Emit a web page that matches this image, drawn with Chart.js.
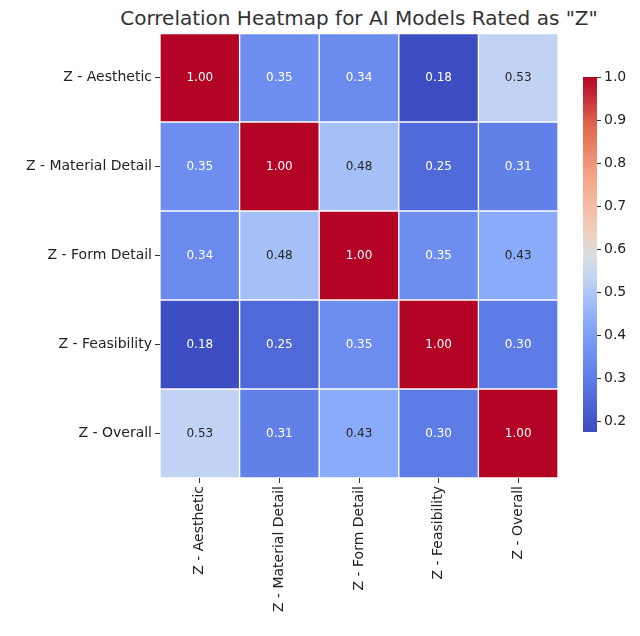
<!DOCTYPE html>
<html><head><meta charset="utf-8">
<script src="https://cdn.jsdelivr.net/npm/chart.js@4"></script>
<style>
body{margin:0;background:#fff;font-family:"DejaVu Sans",sans-serif;}
#title{position:absolute;left:0;width:718px;top:6px;text-align:center;font-size:20px;color:#333;}
#heat{position:absolute;left:0;top:0;}
#bar{position:absolute;left:560px;top:0;}
</style></head><body>
<div id="title">Correlation Heatmap for AI Models Rated as "Z"</div>
<canvas id="heat" width="570" height="636"></canvas>
<canvas id="bar" width="80" height="636"></canvas>
<script>
var labels = ["Z - Aesthetic", "Z - Material Detail", "Z - Form Detail", "Z - Feasibility", "Z - Overall"];
var matrix = [
  [1.00, 0.35, 0.34, 0.18, 0.53],
  [0.35, 1.00, 0.48, 0.25, 0.31],
  [0.34, 0.48, 1.00, 0.35, 0.43],
  [0.18, 0.25, 0.35, 1.00, 0.30],
  [0.53, 0.31, 0.43, 0.30, 1.00]
];
var vmin = 0.175, vmax = 1.0;
var cbTicks = [0.2, 0.3, 0.4, 0.5, 0.6, 0.7, 0.8, 0.9, 1.0];

var stops = [
  [0.0, [59,76,192]], [0.143, [92,122,229]], [0.286, [128,163,250]],
  [0.429, [192,211,245]], [0.5, [221,221,221]], [0.571, [240,205,187]],
  [0.714, [246,166,135]], [0.857, [226,107,83]], [1.0, [180,4,38]]
];
function cmap(t){
  t = Math.max(0, Math.min(1, t));
  for (var i = 1; i < stops.length; i++) {
    if (t <= stops[i][0]) {
      var a = stops[i-1], b = stops[i], f = (t - a[0]) / (b[0] - a[0]);
      return [0,1,2].map(function(k){ return Math.round(a[1][k] + f*(b[1][k]-a[1][k])); });
    }
  }
  return stops[stops.length-1][1];
}
function rgb(c){ return "rgb(" + c.join(",") + ")"; }
function norm(v){ return (v - vmin) / (vmax - vmin); }
function lin(x){ x /= 255; return x <= 0.03928 ? x/12.92 : Math.pow((x+0.055)/1.055, 2.4); }

var datasets = matrix.map(function(row, r){
  return {
    data: row.map(function(){ return [r, r+1]; }),
    backgroundColor: row.map(function(v){ return rgb(cmap(norm(v))); }),
    borderColor: "#fff", borderWidth: 1, borderSkipped: false,
    barPercentage: 1, categoryPercentage: 1, grouped: false
  };
});

var cellText = {
  id: "cellText",
  afterDatasetsDraw: function(chart){
    var ctx = chart.ctx, xs = chart.scales.x, ys = chart.scales.y;
    ctx.save();
    ctx.font = "12px 'DejaVu Sans'";
    ctx.textAlign = "center"; ctx.textBaseline = "middle";
    matrix.forEach(function(row, r){
      row.forEach(function(v, c){
        var col = cmap(norm(v));
        var lum = 0.2126*lin(col[0]) + 0.7152*lin(col[1]) + 0.0722*lin(col[2]);
        ctx.fillStyle = lum > 0.408 ? "#262626" : "#fff";
        ctx.fillText(v.toFixed(2), xs.getPixelForValue(c), ys.getPixelForValue(r + 0.5));
      });
    });
    ctx.restore();
  }
};

new Chart("heat", {
  type: "bar",
  data: { labels: labels, datasets: datasets },
  options: {
    responsive: false, animation: false,
    layout: { padding: { top: 33, right: 12 } },
    plugins: { legend: { display: false }, tooltip: { enabled: false } },
    scales: {
      x: {
        grid: { drawOnChartArea: false, offset: false, color: "#333", tickLength: 5 },
        border: { display: false },
        ticks: { color: "#222", font: { size: 14, family: "DejaVu Sans" }, maxRotation: 90, minRotation: 90 },
        afterFit: function(s){ s.height = 158; }
      },
      y: {
        min: 0, max: 5, reverse: true,
        grid: { drawOnChartArea: false, tickLength: 5,
          color: function(c){ return c.tick && (c.tick.value % 1) === 0.5 ? "#333" : "transparent"; } },
        border: { display: false },
        ticks: { stepSize: 0.5, autoSkip: false, color: "#222", font: { size: 14, family: "DejaVu Sans" },
          callback: function(v){ return (v % 1) === 0.5 ? labels[Math.floor(v)] : ""; } },
        afterFit: function(s){ s.width = 160; }
      }
    }
  },
  plugins: [cellText]
});

new Chart("bar", {
  type: "bar",
  data: { labels: [""], datasets: [{
    data: [[vmin, vmax]], barPercentage: 1, categoryPercentage: 1, borderSkipped: false,
    backgroundColor: function(c){
      var a = c.chart.chartArea; if (!a) return "#ccc";
      var g = c.chart.ctx.createLinearGradient(0, a.bottom, 0, a.top);
      stops.forEach(function(s){ g.addColorStop(s[0], rgb(s[1])); });
      return g;
    }
  }] },
  options: {
    responsive: false, animation: false,
    layout: { padding: { top: 77, bottom: 204, left: 23 } },
    plugins: { legend: { display: false }, tooltip: { enabled: false } },
    scales: {
      x: { display: false },
      y: {
        position: "right", min: vmin, max: vmax,
        afterBuildTicks: function(s){ s.ticks = cbTicks.map(function(v){ return { value: v }; }); },
        grid: { drawOnChartArea: false, color: "#333", tickLength: 4 },
        border: { display: false },
        ticks: { color: "#222", font: { size: 14, family: "DejaVu Sans" }, padding: 3,
          callback: function(v){ return v.toFixed(1); } },
        afterFit: function(s){ s.width = 43; }
      }
    }
  }
});
</script>
</body></html>
